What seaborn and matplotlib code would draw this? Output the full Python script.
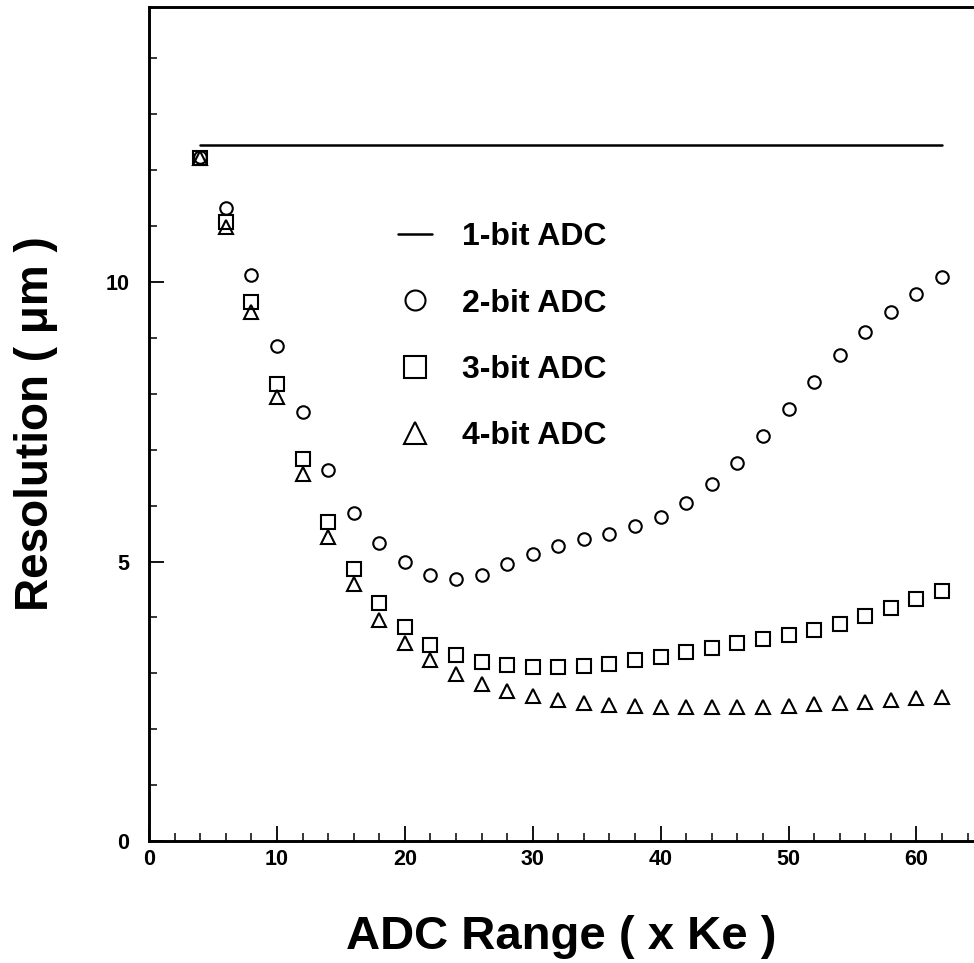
import matplotlib
matplotlib.use("Agg")
import matplotlib.pyplot as plt
import seaborn as sns
from matplotlib.ticker import MultipleLocator, FixedLocator

# ADC range points (x Ke)
adc_range = [4, 6, 8, 10, 12, 14, 16, 18, 20, 22, 24, 26, 28, 30, 32,
             34, 36, 38, 40, 42, 44, 46, 48, 50, 52, 54, 56, 58, 60, 62]

one_bit_x = [4, 62]
one_bit_y = [12.45, 12.45]

two_bit = [12.24, 11.32, 10.13, 8.86, 7.67, 6.64, 5.87, 5.33, 4.99, 4.76,
           4.69, 4.76, 4.96, 5.13, 5.28, 5.40, 5.50, 5.63, 5.80, 6.05,
           6.38, 6.77, 7.24, 7.73, 8.22, 8.69, 9.10, 9.46, 9.79, 10.09]

three_bit = [12.22, 11.08, 9.65, 8.17, 6.83, 5.71, 4.87, 4.25, 3.82, 3.51,
             3.32, 3.21, 3.14, 3.11, 3.12, 3.13, 3.16, 3.23, 3.30, 3.39,
             3.46, 3.54, 3.61, 3.69, 3.77, 3.89, 4.02, 4.17, 4.33, 4.47]

four_bit = [12.22, 10.99, 9.47, 7.95, 6.57, 5.43, 4.59, 3.96, 3.54, 3.23,
            2.98, 2.81, 2.69, 2.60, 2.53, 2.47, 2.43, 2.42, 2.40, 2.40,
            2.39, 2.40, 2.40, 2.42, 2.45, 2.47, 2.49, 2.52, 2.55, 2.58]

sns.set_style("ticks")
plt.rcParams["font.family"] = ["Liberation Sans", "DejaVu Sans"]
plt.rcParams["font.weight"] = "bold"
for key in ["text.color", "axes.labelcolor", "xtick.color", "ytick.color",
            "axes.edgecolor"]:
    plt.rcParams[key] = "black"

fig = plt.figure(figsize=(9.74, 9.63), dpi=100)
ax = fig.add_axes([0.153, 0.1267, 0.847, 0.866])

sns.lineplot(x=one_bit_x, y=one_bit_y, ax=ax, color="black", linewidth=1.8,
             label="1-bit ADC")

marker_kw = dict(linestyle="", markerfacecolor="none", markeredgecolor="black",
                 markeredgewidth=1.5, color="black")
sns.lineplot(x=adc_range, y=two_bit, ax=ax, marker="o", markersize=9,
             label="2-bit ADC", **marker_kw)
sns.lineplot(x=adc_range, y=three_bit, ax=ax, marker="s", markersize=9.5,
             label="3-bit ADC", **marker_kw)
sns.lineplot(x=adc_range, y=four_bit, ax=ax, marker="^", markersize=10,
             label="4-bit ADC", **marker_kw)

ax.set_xlim(0, 64.5)
ax.set_ylim(0, 14.92)

ax.xaxis.set_major_locator(MultipleLocator(10))
ax.xaxis.set_minor_locator(MultipleLocator(2))
ax.yaxis.set_major_locator(FixedLocator([0, 5, 10]))
ax.yaxis.set_minor_locator(MultipleLocator(1))
ax.tick_params(which="major", direction="in", length=10.5, width=1.3,
               labelsize=15.5)
ax.tick_params(axis="x", which="major", pad=6)
ax.tick_params(axis="y", which="major", pad=14)
ax.tick_params(which="minor", direction="in", length=6, width=1.1)
for lab in ax.get_xticklabels() + ax.get_yticklabels():
    lab.set_fontweight("bold")

for side in ["left", "bottom", "top"]:
    ax.spines[side].set_linewidth(2.1)
ax.spines["right"].set_visible(False)

ax.set_xlabel("ADC Range ( x Ke )", fontsize=34, fontweight="bold", labelpad=32)
ax.set_ylabel("Resolution ( μm )", fontsize=33, fontweight="bold", labelpad=34)

leg = ax.legend(loc="upper left", bbox_to_anchor=(0.302, 0.742), frameon=False,
                fontsize=23, markerscale=1.6, handlelength=1.06,
                handletextpad=0.95, labelspacing=1.14, borderpad=0,
                borderaxespad=0)
for t in leg.get_texts():
    t.set_fontweight("bold")

fig.savefig("out.png", dpi=100)
